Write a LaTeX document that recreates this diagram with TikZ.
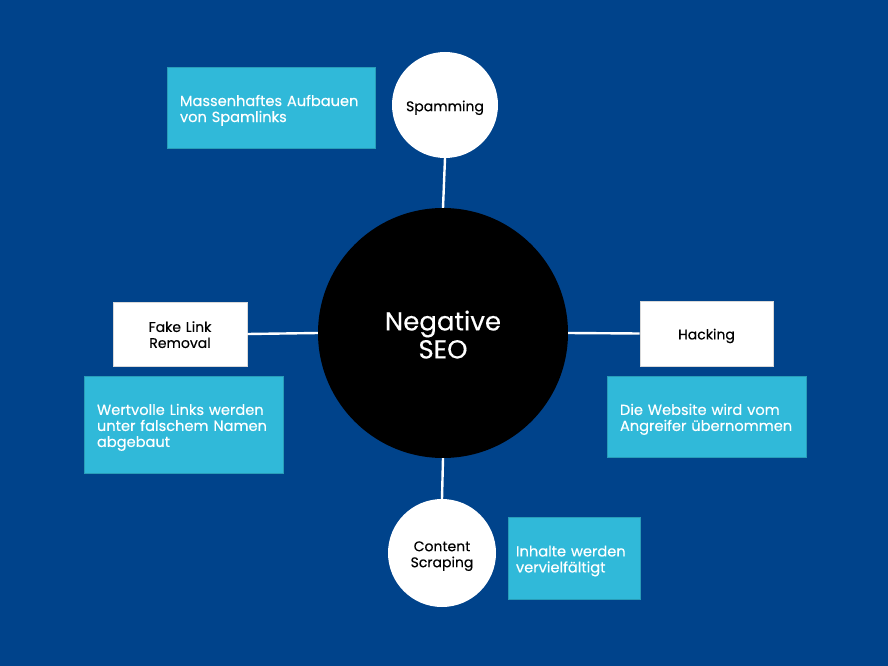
\documentclass[tikz,border=0pt]{standalone}
\usepackage{fontspec}
\setmainfont{Poppins}[FakeBold=0.35]
\definecolor{bgblue}{HTML}{00438B}
\definecolor{cyanbox}{HTML}{30B9D9}
\begin{document}
\begin{tikzpicture}[x=1pt,y=-1pt,
  conn/.style={draw=white,line width=2.4pt},
  lower/.style={execute at begin node={\rule{0pt}{#1}}},
  whitecirc/.style={circle,fill=white,inner sep=0pt,font=\fontsize{14}{16}\selectfont,align=center,text width=100pt,text=black,lower=16.2pt},
  whitebox/.style={rectangle,fill=white,draw=black!15,line width=0.6pt,inner sep=0pt,font=\fontsize{14}{16}\selectfont,align=center,text width=120pt,text=black},
  infobox/.style={rectangle,fill=cyanbox,draw=cyanbox!85!black,line width=0.6pt,inner ysep=0pt,inner xsep=13pt,font=\fontsize{14.6}{16}\selectfont,align=left,text=white,lower=16.8pt}]
\fill[bgblue] (0,0) rectangle (888,666);
\useasboundingbox (0,0) rectangle (888,666);
\node[circle,fill=black,minimum size=250pt,inner sep=0pt,text=white,align=center,text width=200pt,font=\fontsize{26}{28}\selectfont,lower=23pt] (center) at (443,333) {Negative\\SEO};
\node[whitecirc,minimum size=106pt] (spam) at (445,105) {Spamming};
\node[whitecirc,minimum size=108pt] (scrap) at (442,553) {Content\\Scraping};
\node[whitebox,minimum width=134pt,minimum height=64pt,lower=12pt] (fake) at (180,334) {Fake Link\\Removal};
\node[whitebox,minimum width=133pt,minimum height=65pt,lower=15.6pt] (hack) at (706.5,333.5) {Hacking};
\node[infobox,minimum width=208pt,minimum height=81pt,text width=182pt] (box1) at (271,107.5) {Massenhaftes Aufbauen\\von Spamlinks};
\node[infobox,minimum width=199pt,minimum height=97pt,text width=173pt] (box2) at (183.5,424.5) {Wertvolle Links werden\\unter falschem Namen\\abgebaut};
\node[infobox,minimum width=199pt,minimum height=81pt,text width=173pt] (box3) at (706.5,416.5) {Die Website wird vom\\Angreifer übernommen};
\node[infobox,inner xsep=8pt,minimum width=132pt,minimum height=82pt,text width=116pt] (box4) at (574,558) {Inhalte werden\\vervielfältigt};
\draw[conn] (spam.south) -- (center.north);
\draw[conn] (center.south) -- (scrap.north);
\draw[conn] (fake.east) -- (center.west);
\draw[conn] (center.east) -- (hack.west);
\end{tikzpicture}
\end{document}
